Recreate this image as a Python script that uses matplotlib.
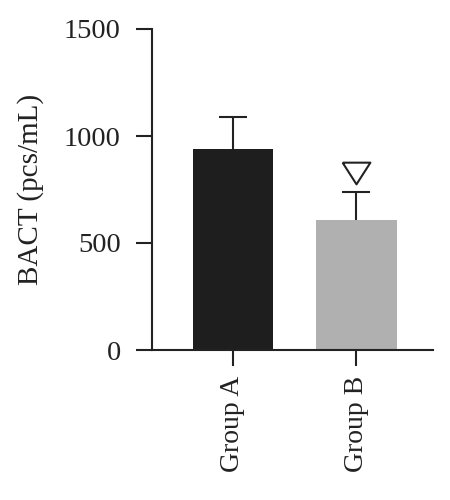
import matplotlib
matplotlib.use("Agg")
import matplotlib.pyplot as plt
import numpy as np

# data
groups = ["Group A", "Group B"]
means = [940, 609]
errors = [151, 131]
sig_y = 828          # open triangle above Group B
bar_colors = ["#1e1e1e", "#b0b0b0"]

plt.rcParams["font.family"] = ["Liberation Serif", "DejaVu Serif"]
ink = "#222222"

fig = plt.figure(figsize=(4.5, 5), dpi=100)
ax = fig.add_axes([152 / 450, 1 - 350 / 500, (433 - 152) / 450, (350 - 29) / 500])

x = np.arange(len(groups))
tops = np.array(means) + np.array(errors)
ax.bar(x, means, width=0.65, color=bar_colors, zorder=2)
# upper-only error bars
ax.vlines(x, means, tops, color=ink, linewidth=1.5, zorder=1)
ax.plot(x, tops, marker="_", markersize=19.5, markeredgewidth=1.5,
        color=ink, linestyle="none", zorder=1)

# significance marker (wider than tall, open)
tri = [(-1, 0.78), (1, 0.78), (0, -0.78), (-1, 0.78)]
ax.plot([x[1]], [sig_y], marker=tri, markersize=20, markerfacecolor="white",
        markeredgecolor=ink, markeredgewidth=1.5, linestyle="none", zorder=3)

ax.set_ylim(0, 1500)
ax.set_xlim(-0.656, 1.62)
ax.set_yticks([0, 500, 1000, 1500])
ax.set_xticks(x)
ax.set_xticklabels(groups, rotation=90)
ax.set_ylabel("BACT (pcs/mL)", fontsize=21, color=ink, labelpad=14)

for s in ["top", "right"]:
    ax.spines[s].set_visible(False)
for s in ["left", "bottom"]:
    ax.spines[s].set_linewidth(1.5)
    ax.spines[s].set_color(ink)

ax.tick_params(axis="both", direction="out", length=11.5, width=1.5, color=ink)
ax.tick_params(axis="y", labelsize=20.5, labelcolor=ink, pad=11)
ax.tick_params(axis="x", labelsize=20, labelcolor=ink, pad=7)

fig.savefig("out.png", dpi=100)
